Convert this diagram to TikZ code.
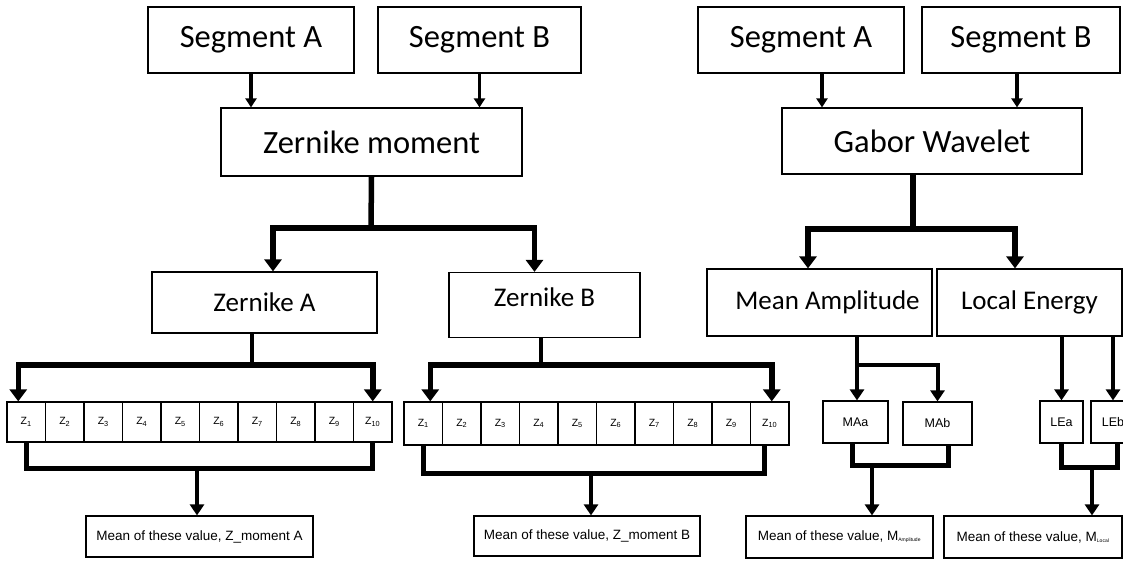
\documentclass[tikz,border=0pt]{standalone}
\usepackage{fontspec}
\setmainfont{Carlito}
\newfontfamily\arialfont{Liberation Sans}
\usetikzlibrary{arrows.meta}
\newcommand{\zlab}[1]{Z\textsubscript{#1}}

\begin{document}
\begin{tikzpicture}[x=1pt,y=-1pt,
    box/.style={draw,line width=1.2pt,inner sep=0pt,align=center},
    levelone/.style={box,font=\fontsize{32.5}{38}\selectfont},
    leveltwo/.style={box,font=\fontsize{27}{32}\selectfont},
    cell/.style={box,minimum width=38.5pt,font=\arialfont\fontsize{10.5}{12}\selectfont},
    part/.style={box,font=\arialfont\fontsize{12.5}{14}\selectfont},
    meanbox/.style={box,font=\arialfont\fontsize{13.5}{15}\selectfont},
    feedarrow/.style={line width=3.5pt,-{Triangle[width=11pt,length=9pt]}},
    splitarrow/.style={line width=5.5pt,-{Triangle[width=17pt,length=12pt]}},
    meanarrow/.style={line width=4pt,-{Triangle[width=14pt,length=11pt]}},
    bracketline/.style={line width=5pt}]
  \useasboundingbox (0,0) rectangle (1123,560);

  % top level
  \node[levelone,minimum width=206pt,minimum height=66pt] (segal) at (251,40) {Segment A};
  \node[levelone,minimum width=203pt,minimum height=66pt] (segbl) at (479.5,40) {Segment B};
  \node[levelone,minimum width=301pt,minimum height=68pt] (zern) at (371.5,142) {Zernike moment};
  \node[levelone,minimum width=206pt,minimum height=66pt] (segar) at (801,40) {Segment A};
  \node[levelone,minimum width=198pt,minimum height=66pt] (segbr) at (1021,40) {Segment B};
  \node[levelone,minimum width=300pt,minimum height=66pt] (gabor) at (932,141) {Gabor Wavelet};

  % second level
  \node[leveltwo,minimum width=225pt,minimum height=61pt] (zerna) at (264.5,302.5) {Zernike A};
  \node[leveltwo,minimum width=191pt,minimum height=65pt,text depth=16pt] (zernb) at (544.5,305) {Zernike B};
  \node[leveltwo,minimum width=225pt,minimum height=67pt] (meanamp) at (819.5,302.5) {\hspace*{16pt}Mean Amplitude};
  \node[leveltwo,minimum width=185pt,minimum height=67pt] (locale) at (1029.5,302.5) {Local Energy};

  % moment cells
  \foreach \i in {1,...,10} {
    \node[cell,minimum height=40pt] (za\i) at ({7+38.5*(\i-0.5)},422) {\zlab{\i}};
    \node[cell,minimum height=43pt] (zb\i) at ({404+38.5*(\i-0.5)},423.5) {\zlab{\i}};
  }
  \node[part,minimum width=65pt,minimum height=42pt] (maa) at (855.5,422) {MAa};
  \node[part,minimum width=69pt,minimum height=43pt] (mab) at (937.5,423.5) {MAb};
  \node[part,minimum width=43pt,minimum height=42pt] (lea) at (1061.5,422) {LEa};
  \node[part,minimum width=44pt,minimum height=42pt] (leb) at (1113,422) {LEb};

  % means
  \node[meanbox,minimum width=227pt,minimum height=41pt] (meana) at (199.5,536.5) {Mean of these value, Z\_moment A};
  \node[meanbox,minimum width=226pt,minimum height=40pt] (meanb) at (587,536) {Mean of these value, Z\_moment B};
  \node[meanbox,minimum width=187pt,minimum height=42pt] (meanampv) at (839.5,537)
    {Mean of these value, M{\fontsize{7}{8}\selectfont\textsubscript{Amplitude}}};
  \node[meanbox,minimum width=178pt,minimum height=42pt] (meanloc) at (1033,537)
    {Mean of these value, M{\fontsize{7}{8}\selectfont\textsubscript{Local}}};

  % segments into transforms
  \draw[feedarrow] (segal.south) -- (segal.south |- zern.north);
  \draw[feedarrow] (segbl.south) -- (segbl.south |- zern.north);
  \draw[feedarrow] ([xshift=21pt]segar.south) -- ([xshift=21pt]segar.south |- gabor.north);
  \draw[feedarrow] ([xshift=-4pt]segbr.south) -- ([xshift=-4pt]segbr.south |- gabor.north);

  % splits
  \coordinate (zsplit) at (371,228);
  \draw[line width=5.5pt] (zern.south) -- (zsplit);
  \draw[splitarrow] (zsplit) -| ([xshift=8.5pt]zerna.north);
  \draw[splitarrow] (zsplit) -| ([xshift=-10pt]zernb.north);
  \coordinate (gsplit) at (913,229);
  \draw[line width=5.5pt] ([xshift=-19pt]gabor.south) -- (gsplit);
  \draw[splitarrow] (gsplit) -| ([xshift=-11.5pt]meanamp.north);
  \draw[splitarrow] (gsplit) -| ([xshift=-14.5pt]locale.north);

  \coordinate (asplit) at (252,365);
  \draw[line width=4.5pt] ([xshift=-12.5pt]zerna.south) -- (asplit);
  \draw[splitarrow] (asplit) -| ([xshift=-8pt]za1.north);
  \draw[splitarrow] (asplit) -| (za10.north);
  \coordinate (bsplit) at (541,365);
  \draw[line width=4.5pt] ([xshift=-3.5pt]zernb.south) -- (bsplit);
  \draw[splitarrow] (bsplit) -| ([xshift=7pt]zb1.north);
  \draw[splitarrow] (bsplit) -| ([xshift=2pt]zb10.north);

  \coordinate (masplit) at (857,365);
  \draw[meanarrow] ([xshift=37.5pt]meanamp.south) -- (masplit |- maa.north);
  \draw[meanarrow] (masplit) -| (mab.north);
  \draw[meanarrow] (lea.north |- locale.south) -- (lea.north);
  \draw[meanarrow] (leb.north |- locale.south) -- (leb.north);

  % brackets into means
  \coordinate (abr) at (197,468);
  \draw[bracketline] (za1.south) |- (abr) -| (za10.south);
  \draw[meanarrow] (abr) -- (abr |- meana.north);
  \coordinate (bbr) at (591,473);
  \draw[bracketline] (zb1.south) |- (bbr) -| ([xshift=-5pt]zb10.south);
  \draw[meanarrow] (bbr) -- (bbr |- meanb.north);
  \coordinate (mabr) at (872,465);
  \draw[bracketline] ([xshift=-3pt]maa.south) |- (mabr) -| ([xshift=11pt]mab.south);
  \draw[meanarrow] (mabr) -- (mabr |- meanampv.north);
  \coordinate (lebr) at (1092,467);
  \draw[bracketline] (lea.south) |- (lebr) -| ([xshift=4pt]leb.south);
  \draw[meanarrow] (lebr) -- (lebr |- meanloc.north);
\end{tikzpicture}
\end{document}
